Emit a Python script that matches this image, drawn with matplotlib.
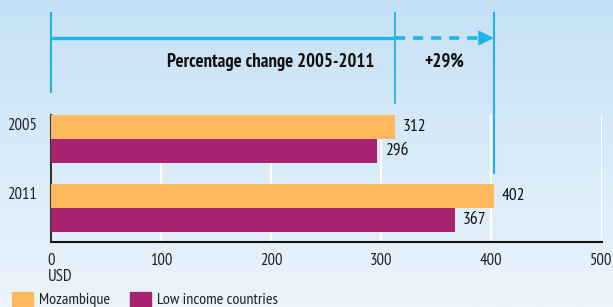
import matplotlib
matplotlib.use("Agg")
import matplotlib.pyplot as plt
import numpy as np
from matplotlib.transforms import blended_transform_factory
from matplotlib.patches import Rectangle

categories = ["2005", "2011"]
mozambique = [312, 402]
low_income = [296, 367]
series_names = ["Mozambique", "Low income countries"]
x_ticks = [0, 100, 200, 300, 400, 500]
change_label = "Percentage change 2005-2011"
change_value = "+29%"
unit_label = "USD"

plt.rcParams['font.family'] = ['PT Sans Narrow', 'Roboto Condensed', 'DejaVu Sans']

W, H = 613, 307
fig = plt.figure(figsize=(W / 100, H / 100), dpi=100)

# gradient background
bg = fig.add_axes([0, 0, 1, 1], zorder=-10)
top = np.array([197, 225, 245]) / 255
bot = np.array([235, 244, 252]) / 255
t = np.linspace(0, 1, 256)[:, None]
grad = top[None, :] * (1 - t) + bot[None, :] * t
bg.imshow(grad[:, None, :], aspect='auto', extent=[0, 1, 0, 1])
bg.set_axis_off()

def fx(px):
    return px / W

def fy(py):
    return 1 - py / H

ax_left, ax_right, ax_top, ax_bot = 51, 601.5, 115, 242
ax = fig.add_axes([fx(ax_left), fy(ax_bot), fx(ax_right - ax_left), (ax_bot - ax_top) / H])
ax.patch.set_alpha(0)

orange = "#FDB95B"
purple = "#A7226F"
blue = "#1EB4EA"
FS = 12.5

pos = np.arange(len(categories))
bh = 0.348
ax.barh(pos - bh / 2, mozambique, height=bh, color=orange, zorder=3)
ax.barh(pos + bh / 2, low_income, height=bh, color=purple, zorder=3)

for i in range(len(categories)):
    ax.annotate(str(mozambique[i]), (mozambique[i], pos[i] - bh / 2), xytext=(8, 0),
                textcoords='offset pixels', va='center', ha='left', fontsize=FS, color='#111111')
    ax.annotate(str(low_income[i]), (low_income[i], pos[i] + bh / 2), xytext=(8, 0),
                textcoords='offset pixels', va='center', ha='left', fontsize=FS, color='#111111')

ax.set_xlim(0, 500)
ax.set_ylim(1 + 34 / 69, -24 / 69)
ax.set_yticks(pos - bh / 2 - 0.04)
ax.set_yticklabels(categories, fontsize=12, color='#222222')
ax.set_xticks(x_ticks)
ax.set_xticklabels([str(v) for v in x_ticks], fontsize=12, color='#222222')
ax.tick_params(axis='both', length=0)
ax.tick_params(axis='y', pad=10)
ax.tick_params(axis='x', pad=8)
ax.grid(axis='x', color='white', linewidth=1.6, zorder=0)
for s in ['top', 'right']:
    ax.spines[s].set_visible(False)
ax.spines['left'].set_color('#333333')
ax.spines['left'].set_linewidth(1.5)
ax.spines['bottom'].set_color('#111111')
ax.spines['bottom'].set_linewidth(1.5)

# annotation above
tr = blended_transform_factory(ax.transData, fig.transFigure)
ax.plot([0, 0], [fy(13), fy(92)], transform=tr, color=blue, lw=1.5, clip_on=False, zorder=5)
ax.plot([mozambique[0], mozambique[0]], [fy(13), fy(103)], transform=tr, color=blue, lw=1.3, clip_on=False, zorder=5)
ax.plot([mozambique[1], mozambique[1]], [fy(13), fy(172.7)], transform=tr, color=blue, lw=1.5, clip_on=False, zorder=5)
ax.plot([0, mozambique[0]], [fy(38), fy(38)], transform=tr, color=blue, lw=2.4, clip_on=False,
        solid_capstyle='butt', zorder=5)
ax.plot([mozambique[0], mozambique[1] - 14], [fy(38), fy(38)], transform=tr, color=blue, lw=2.6,
        clip_on=False, dashes=(2.8, 2.2), zorder=5)
ax.annotate('', xy=(mozambique[1], fy(38)), xycoords=tr, xytext=(mozambique[1] - 15, fy(38)),
            textcoords=tr, annotation_clip=False,
            arrowprops=dict(arrowstyle='-|>,head_length=1.1,head_width=0.55', color=blue, lw=0,
                            shrinkA=0, shrinkB=0))
ax.text(294, fy(62), change_label, transform=tr, ha='right', va='center', fontsize=13.5,
        fontweight='bold', color='#111111')
ax.text((mozambique[0] + mozambique[1]) / 2, fy(62), change_value, transform=tr, ha='center',
        va='center', fontsize=13.5, fontweight='bold', color='#111111')

# USD label
fig.text(fx(48), fy(277), unit_label, ha='left', va='center', fontsize=12, color='#222222')

# legend
for x0, col, name in [(12, orange, series_names[0]), (130, purple, series_names[1])]:
    fig.patches.append(Rectangle((fx(x0), fy(310)), fx(21), 18 / H, transform=fig.transFigure,
                                 color=col, zorder=5))
    fig.text(fx(x0 + 27), fy(300), name, ha='left', va='center', fontsize=11.5, color='#222222')

fig.savefig("out.png", dpi=100)
